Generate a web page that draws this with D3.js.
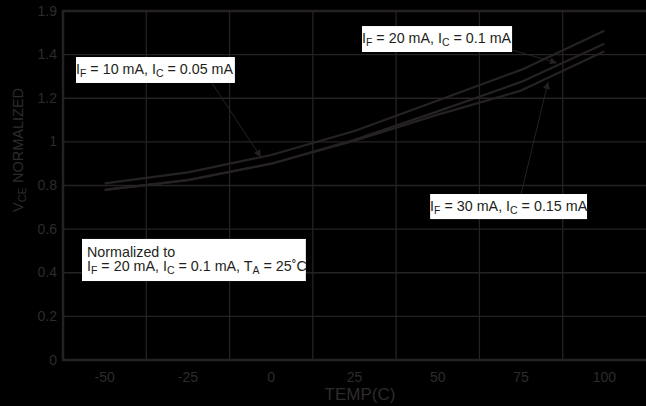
<!DOCTYPE html>
<html>
<head>
<meta charset="utf-8">
<script src="https://cdn.jsdelivr.net/npm/d3@7"></script>
<style>
  body { margin: 0; background: #000; }
  svg { display: block; }
</style>
</head>
<body>
<div id="chart"></div>
<script>
// Data
const temps = [-50, -25, 0, 25, 50, 75, 100];
const vceIF10 = [0.81, 0.86, 0.94, 1.05, 1.19, 1.33, 1.51];
const vceIF20 = [0.78, 0.825, 0.90, 1.01, 1.14, 1.275, 1.45];
const vceIF30 = [0.78, 0.825, 0.90, 1.005, 1.125, 1.235, 1.415];

const xTickLabels = ["-50", "-25", "0", "25", "50", "75", "100"];
const yTickValues = [0, 0.2, 0.4, 0.6, 0.8, 1, 1.2, 1.4, 1.6];
const yTickLabels = ["0", "0.2", "0.4", "0.6", "0.8", "1", "1.2", "1.4", "1.9"];
const xGridValues = [-37.5, -12.5, 12.5, 37.5, 62.5, 87.5];

// Annotation boxes (data units: left temp, top value, right temp, bottom value)
const labelBoxes = [
  { box: [-58.6, 1.389, -10.9, 1.27], lines: [[["I"], ["F", 1], [" = 10 mA, I"], ["C", 1], [" = 0.05 mA"]]], pad: 0 },
  { box: [27.25, 1.531, 72.3, 1.412], lines: [[["I"], ["F", 1], [" = 20 mA, I"], ["C", 1], [" = 0.1 mA"]]], pad: 0 },
  { box: [47.7, 0.761, 94.8, 0.646], lines: [[["I"], ["F", 1], [" = 30 mA, I"], ["C", 1], [" = 0.15 mA"]]], pad: 0 },
  { box: [-56.8, 0.555, 10.4, 0.362], lines: [[["Normalized to"]],
      [["I"], ["F", 1], [" = 20 mA, I"], ["C", 1], [" = 0.1 mA, T"], ["A", 1], [" = 25˚C"]]], pad: 5 }
];

// Arrows (data units: from temp, from value, to temp, to value)
const arrows = [
  [-17.8, 1.27, -3.1, 0.93],
  [72.3, 1.421, 85.8, 1.362],
  [75.0, 0.761, 83.1, 1.2745]
];

const width = 646;
const height = 406;
const plot = { left: 63, right: 646, top: 11, bottom: 360 };
const ink = "#262223";
const textGray = "#2e2b2c";
const font = "'Liberation Sans', Arial, Helvetica, sans-serif";

const svg = d3.select("#chart")
  .append("svg")
  .attr("width", width)
  .attr("height", height)
  .style("background", "#000");

const x = d3.scaleLinear().domain([-62.5, 112.5]).range([plot.left, plot.right]);
const y = d3.scaleLinear().domain([0, 1.6]).range([plot.bottom, plot.top]);

// Grid lines
svg.append("g")
  .selectAll("line")
  .data(xGridValues)
  .join("line")
  .attr("x1", d => x(d)).attr("x2", d => x(d))
  .attr("y1", plot.top).attr("y2", plot.bottom)
  .attr("stroke", ink).attr("stroke-width", 1.3);

svg.append("g")
  .selectAll("line")
  .data(yTickValues.slice(1, -1))
  .join("line")
  .attr("x1", plot.left).attr("x2", plot.right)
  .attr("y1", d => y(d)).attr("y2", d => y(d))
  .attr("stroke", ink).attr("stroke-width", 1.3);

// Frame
svg.append("rect")
  .attr("x", plot.left).attr("y", plot.top)
  .attr("width", plot.right - plot.left + 4)
  .attr("height", plot.bottom - plot.top)
  .attr("fill", "none")
  .attr("stroke", ink)
  .attr("stroke-width", 2.5);

// Tick labels
svg.append("g")
  .selectAll("text")
  .data(temps)
  .join("text")
  .attr("x", d => x(d))
  .attr("y", 382)
  .attr("text-anchor", "middle")
  .attr("font-family", font)
  .attr("font-size", 14)
  .attr("fill", textGray)
  .text((d, i) => xTickLabels[i]);

svg.append("g")
  .selectAll("text")
  .data(yTickValues)
  .join("text")
  .attr("x", 57)
  .attr("y", d => y(d))
  .attr("dy", "0.33em")
  .attr("text-anchor", "end")
  .attr("font-family", font)
  .attr("font-size", 14)
  .attr("fill", textGray)
  .text((d, i) => yTickLabels[i]);

// Axis titles
svg.append("text")
  .attr("x", 360).attr("y", 400)
  .attr("text-anchor", "middle")
  .attr("font-family", font)
  .attr("font-size", 17)
  .attr("fill", textGray)
  .text("TEMP(C)");

const yTitle = svg.append("text")
  .attr("transform", "translate(23,150) rotate(-90)")
  .attr("text-anchor", "middle")
  .attr("font-family", font)
  .attr("font-size", 14.5)
  .attr("fill", textGray);
yTitle.append("tspan").text("V");
yTitle.append("tspan").attr("font-size", 11).attr("dy", 3).text("CE");
yTitle.append("tspan").attr("dy", -3).text(" NORMALIZED");

// Curves
const line = d3.line()
  .x((d, i) => x(temps[i]))
  .y(d => y(d));

[vceIF10, vceIF20, vceIF30].forEach(series => {
  svg.append("path")
    .datum(series)
    .attr("d", line)
    .attr("fill", "none")
    .attr("stroke", ink)
    .attr("stroke-width", 2.2)
    .attr("stroke-linejoin", "round");
});

// Arrow marker
svg.append("defs")
  .append("marker")
  .attr("id", "head")
  .attr("viewBox", "0 0 10 10")
  .attr("refX", 10).attr("refY", 5)
  .attr("markerWidth", 10).attr("markerHeight", 7)
  .attr("markerUnits", "userSpaceOnUse")
  .attr("orient", "auto")
  .append("path")
  .attr("d", "M0,0 L10,5 L0,10 z")
  .attr("fill", ink);

// Label boxes
labelBoxes.forEach(lb => {
  const [t0, v0, t1, v1] = lb.box;
  const bx = x(t0), by = y(v0), bw = x(t1) - x(t0), bh = y(v1) - y(v0);
  svg.append("rect")
    .attr("x", bx).attr("y", by)
    .attr("width", bw).attr("height", bh)
    .attr("fill", "#fff");
  const lineGap = 14;
  const firstBase = by + bh / 2 + 4 - (lb.lines.length - 1) * lineGap / 2;
  lb.lines.forEach((parts, li) => {
    const t = svg.append("text")
      .attr("x", bx + lb.pad)
      .attr("y", firstBase + li * lineGap)
      .attr("font-family", font)
      .attr("font-size", 14.3)
      .attr("fill", "#231f20");
    let shifted = false;
    parts.forEach(([str, sub]) => {
      const ts = t.append("tspan").text(str);
      if (sub && !shifted) { ts.attr("font-size", 10.5).attr("dy", 3); shifted = true; }
      else if (!sub && shifted) { ts.attr("dy", -3); shifted = false; }
    });
  });
});

// Arrows
svg.append("g")
  .selectAll("line")
  .data(arrows)
  .join("line")
  .attr("x1", d => x(d[0])).attr("y1", d => y(d[1]))
  .attr("x2", d => x(d[2])).attr("y2", d => y(d[3]))
  .attr("stroke", ink)
  .attr("stroke-width", 1)
  .attr("marker-end", "url(#head)");
</script>
</body>
</html>
